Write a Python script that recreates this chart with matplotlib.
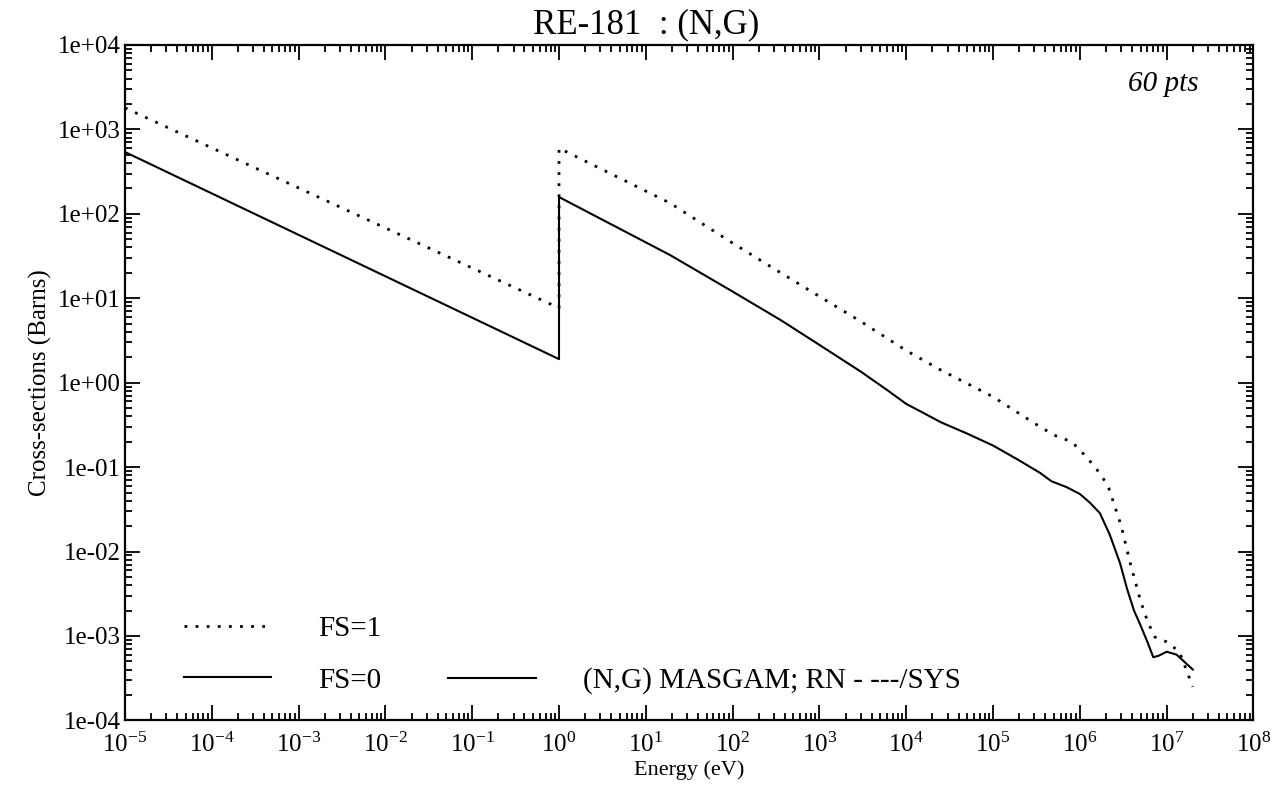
import matplotlib
matplotlib.use('Agg')
import matplotlib.pyplot as plt
from matplotlib.ticker import LogLocator, FuncFormatter, NullFormatter
from matplotlib.lines import Line2D

plt.rcParams['font.family'] = ['Liberation Serif', 'DejaVu Serif']
plt.rcParams['mathtext.fontset'] = 'custom'
plt.rcParams['mathtext.rm'] = 'Liberation Serif'
plt.rcParams['mathtext.it'] = 'Liberation Serif:italic'

# FS=0 (solid) curve
e_fs0 = [1e-5, 1.0, 1.0, 19, 100, 359, 1e3, 3e3, 6e3, 1e4, 1.5e4, 2.5e4, 5e4, 1e5, 2e5,
         3.5e5, 4.7e5, 7e5, 1e6, 1.3e6, 1.7e6, 2.2e6, 2.9e6, 3.5e6, 4.2e6, 4.9e6, 6e6,
         7e6, 8e6, 1e7, 1.3e7, 2e7]
xs_fs0 = [540, 1.9, 158, 32.5, 12.0, 5.5, 2.8, 1.35, 0.82, 0.56, 0.45, 0.34, 0.25, 0.18, 0.12,
          0.085, 0.068, 0.058, 0.048, 0.038, 0.0285, 0.016, 7.3e-3, 3.6e-3, 2.0e-3, 1.4e-3, 8.5e-4,
          5.6e-4, 5.8e-4, 6.5e-4, 6.0e-4, 4.0e-4]

# FS=1 (dotted) curve
e_fs1 = [1e-5, 1.0, 1.0, 19, 100, 359, 1e3, 3e3, 1e4, 2.5e4, 1e5, 3e5, 5e5, 8e5,
         1e6, 1.5e6, 2.1e6, 3e6, 3.8e6, 5e6, 6e6, 7.3e6, 1e7, 1.4e7, 2e7]
xs_fs1 = [1800, 7.65, 600, 134, 45, 20, 10.5, 5.3, 2.4, 1.41, 0.68, 0.33, 0.24, 0.2,
          0.16, 0.1, 0.061, 0.02, 7.3e-3, 2.6e-3, 1.5e-3, 9.7e-4, 8.5e-4, 6.5e-4, 2.5e-4]

fig = plt.figure(figsize=(12.83, 7.89), dpi=100)
ax = fig.add_axes([0.0974, 0.087, 0.8796, 0.856])

ax.plot(e_fs1, xs_fs1, color='black', lw=2.0, linestyle=(0, (1, 3)))
ax.plot(e_fs0, xs_fs0, color='black', lw=1.5)

ax.set_xscale('log')
ax.set_yscale('log')
ax.set_xlim(1e-5, 1e8)
ax.set_ylim(1e-4, 1e4)

ax.xaxis.set_major_locator(LogLocator(base=10, numticks=20))
ax.xaxis.set_minor_locator(LogLocator(base=10, subs=range(2, 10), numticks=200))
ax.yaxis.set_major_locator(LogLocator(base=10, numticks=20))
ax.yaxis.set_minor_locator(LogLocator(base=10, subs=range(2, 10), numticks=200))
ax.xaxis.set_minor_formatter(NullFormatter())
ax.yaxis.set_minor_formatter(NullFormatter())
ax.yaxis.set_major_formatter(FuncFormatter(lambda v, p: f'{v:.0e}'))

ax.tick_params(which='both', direction='in', top=True, right=True, width=1.3)
ax.tick_params(which='major', length=11, labelsize=18)
ax.tick_params(which='minor', length=5)
ax.tick_params(axis='x', which='major', pad=9)
ax.tick_params(axis='y', which='major', pad=3)
for s in ax.spines.values():
    s.set_linewidth(1.6)

ax.set_xlabel('Energy (eV)', fontsize=16, labelpad=2)
ax.set_ylabel('Cross-sections (Barns)', fontsize=18, labelpad=4)
fig.text(0.5035, 0.958, 'RE-181  : (N,G)', fontsize=25, ha='center', va='baseline')
ax.text(0.951, 0.932, '60 pts', transform=ax.transAxes, ha='right', va='baseline',
        fontsize=21, style='italic')

handles = [Line2D([], [], color='black', lw=2.0, linestyle=(0, (1, 3))),
           Line2D([], [], color='black', lw=1.5),
           Line2D([], [], color='none'),
           Line2D([], [], color='black', lw=1.5)]
labels = ['FS=1', 'FS=0', '', '(N,G) MASGAM; RN - ---/SYS']
ax.legend(handles, labels, ncol=2, loc='lower left', bbox_to_anchor=(0.029, 0.0),
          frameon=False, fontsize=21, handlelength=3.0, handletextpad=1.6,
          columnspacing=2.3, labelspacing=0.85)

fig.savefig('out.png', dpi=100)
